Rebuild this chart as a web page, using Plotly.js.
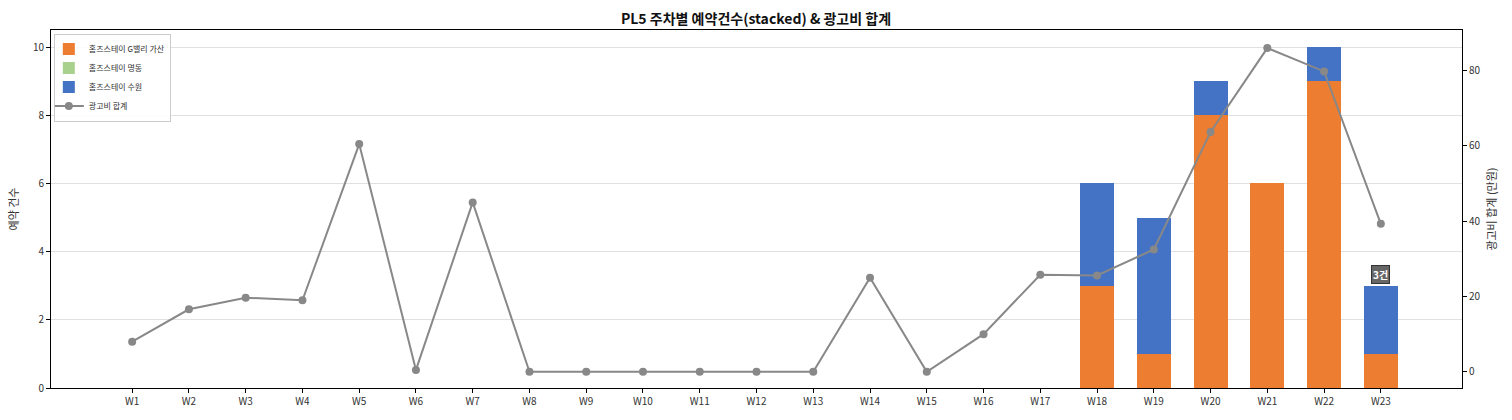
<!DOCTYPE html>
<html><head><meta charset="utf-8">
<script src="https://cdn.plot.ly/plotly-3.0.1.min.js"></script>
<style>html,body{margin:0;padding:0;background:#fff}#chart{width:1512px;height:420px}</style>
</head><body><div id="chart"></div>
<script>
const weeks = ["W1","W2","W3","W4","W5","W6","W7","W8","W9","W10","W11","W12","W13","W14","W15","W16","W17","W18","W19","W20","W21","W22","W23"];
const gvalley = [0,0,0,0,0,0,0,0,0,0,0,0,0,0,0,0,0,3,1,8,6,9,1];
const myeongdong = [0,0,0,0,0,0,0,0,0,0,0,0,0,0,0,0,0,0,0,0,0,0,0];
const suwon = [0,0,0,0,0,0,0,0,0,0,0,0,0,0,0,0,0,3,4,1,0,1,2];
const adCost = [8,16.6,19.7,19,60.5,0.5,45,0,0,0,0,0,0,25,0,10,25.8,25.6,32.5,63.7,86,79.8,39.3];
const lastLabel = "3건";

const FONT = "'Noto Sans CJK KR', 'DejaVu Sans', sans-serif";
const traces = [
  {type:'bar', name:'홈즈스테이 G밸리 가산', x:weeks, y:gvalley, marker:{color:'#ED7D31'}, width:0.6},
  {type:'bar', name:'홈즈스테이 명동', x:weeks, y:myeongdong, marker:{color:'#A9D18E'}, width:0.6},
  {type:'bar', name:'홈즈스테이 수원', x:weeks, y:suwon, marker:{color:'#4472C4'}, width:0.6},
  {type:'scatter', mode:'lines+markers', name:'광고비 합계', x:weeks, y:adCost, yaxis:'y2',
   line:{color:'#888888', width:2}, marker:{color:'#888888', size:8}}
];
const lastIdx = weeks.length-1;
const layout = {
  width:1512, height:420,
  margin:{l:51, r:50, t:30, b:32},
  paper_bgcolor:'#fff', plot_bgcolor:'#fff',
  font:{family:FONT, size:10, color:'#333'},
  barmode:'stack', bargap:0.4,
  showlegend:true,
  title:{text:'<b>PL5 주차별 예약건수(stacked) & 광고비 합계</b>', font:{size:14, color:'#111', family:FONT}, x:0.5, xanchor:'center', y:0.955, yanchor:'middle'},
  xaxis:{type:'category', range:[-1.43, 23.43], showline:true, linecolor:'#000', linewidth:1, mirror:true,
    ticks:'outside', ticklen:4, tickcolor:'#000', showgrid:false, tickfont:{size:10, color:'#333'}},
  yaxis:{range:[0,10.5], dtick:2, showline:true, linecolor:'#000', linewidth:1, ticks:'outside', ticklen:4, tickcolor:'#000',
    showgrid:true, gridcolor:'#e0e0e0', gridwidth:1, zeroline:false, tickfont:{size:10, color:'#333'},
    title:{text:'예약 건수', font:{size:11, color:'#333'}, standoff:12}},
  yaxis2:{overlaying:'y', side:'right', range:[-4.3, 90.8], dtick:20, showline:true, linecolor:'#000', linewidth:1,
    ticks:'outside', ticklen:4, tickcolor:'#000', showgrid:false, zeroline:false, tickfont:{size:10, color:'#333'},
    title:{text:'광고비 합계 (만원)', font:{size:11, color:'#333'}, standoff:8}},
  legend:{x:0.002, y:0.99, xanchor:'left', yanchor:'top', bgcolor:'rgba(255,255,255,0.9)', bordercolor:'#cccccc', borderwidth:1,
    font:{size:8, color:'#333'}, traceorder:'normal', itemwidth:30, tracegroupgap:0, indentation:-6},
  annotations:[{x:weeks[lastIdx], y:gvalley[lastIdx]+myeongdong[lastIdx]+suwon[lastIdx], xref:'x', yref:'y', text:'<b>'+lastLabel+'</b>',
    showarrow:false, yanchor:'bottom', yshift:2, bgcolor:'#666666', bordercolor:'#333333', borderwidth:1, borderpad:1,
    font:{size:10, color:'#ffffff'}}]
};
Plotly.newPlot('chart', traces, layout, {displayModeBar:false});
</script></body></html>
